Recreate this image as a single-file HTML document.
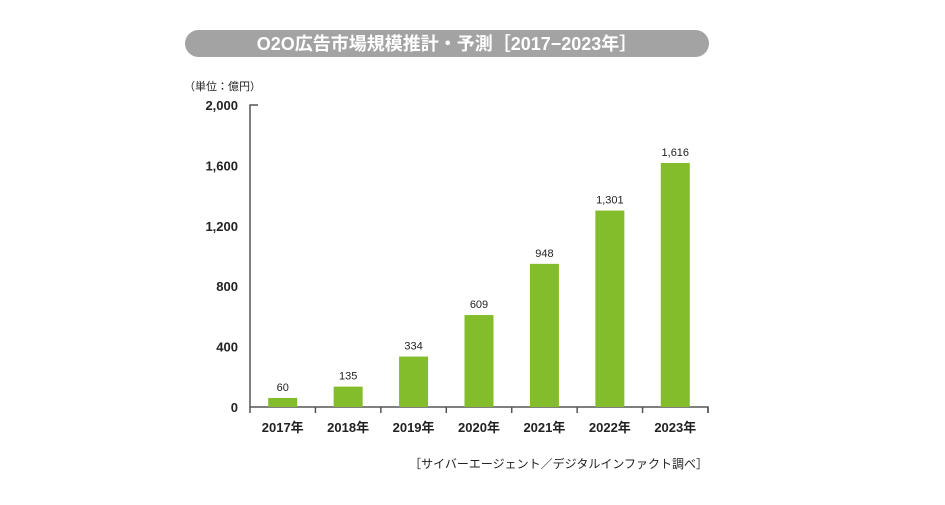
<!DOCTYPE html>
<html><head><meta charset="utf-8"><style>
body{margin:0;background:#fff;width:945px;height:500px;overflow:hidden;font-family:"Liberation Sans","Noto Sans CJK JP",sans-serif;}
</style></head><body>
<svg width="945" height="500">
<rect x="185" y="30" width="524" height="27" rx="13.5" fill="#a3a3a3"/>
<text x="447" y="50" text-anchor="middle" fill="#fff" font-size="18" font-weight="bold" font-family="Liberation Sans, Noto Sans CJK JP, sans-serif">O2O広告市場規模推計・予測［2017−2023年］</text>
<text x="184" y="90" font-size="11" fill="#222" font-family="Liberation Sans, Noto Sans CJK JP, sans-serif">（単位：億円）</text>
<g id="axes"></g>
<g id="bars"></g>
<text x="708" y="468" text-anchor="end" font-size="12" fill="#222" font-family="Liberation Sans, Noto Sans CJK JP, sans-serif">［サイバーエージェント／デジタルインファクト調べ］</text>
</svg>
<script>
const categories=["2017年","2018年","2019年","2020年","2021年","2022年","2023年"];
const values=[60,135,334,609,948,1301,1616];
const valueLabels=["60","135","334","609","948","1,301","1,616"];
const yTicks=[0,400,800,1200,1600,2000];
const yTickLabels=["0","400","800","1,200","1,600","2,000"];
const NS="http://www.w3.org/2000/svg";
const x0=250,x1=708,yb=407,yt=105,ymax=2000;
const bw=(x1-x0)/categories.length;
const y=v=>yb-(v/ymax)*(yb-yt);
const xc=i=>x0+bw*(i+0.5);
function mk(tag,attrs,parent,text){const e=document.createElementNS(NS,tag);for(const k in attrs)e.setAttribute(k,attrs[k]);if(text!==undefined)e.textContent=text;parent.appendChild(e);return e;}
const ax=document.getElementById('axes'),bg=document.getElementById('bars');
let e=mk('path',{d:`M${x0+8} ${yt}H${x0}V${yb}H${x1}V${yb+6}`,fill:'none',stroke:'#555','stroke-width':1.5},ax);


for(let i=0;i<=categories.length;i++){
 const t=mk('line',{x1:x0+bw*i,x2:x0+bw*i,y1:yb,y2:yb+6,stroke:'#555','stroke-width':1.5},ax);
 
 
}
yTicks.forEach((v,i)=>{
 const t=mk('text',{x:x0-12,y:y(v)+5,'text-anchor':'end','font-size':13,'font-weight':'bold',fill:'#222'},ax,yTickLabels[i]);
 
 
});
categories.forEach((c,i)=>{
 const r=mk('rect',{x:xc(i)-14.5,y:y(values[i]),width:29,height:yb-y(values[i]),fill:'#84bd2b'},bg);
 
 
 const l=mk('text',{x:xc(i),y:y(values[i])-7,'text-anchor':'middle','font-size':11,fill:'#222'},bg,valueLabels[i]);
 
 
 const cl=mk('text',{x:xc(i),y:yb+25,'text-anchor':'middle','font-size':13,'font-weight':'bold',fill:'#222'},bg,c);
 
 
});
</script>
</body></html>
